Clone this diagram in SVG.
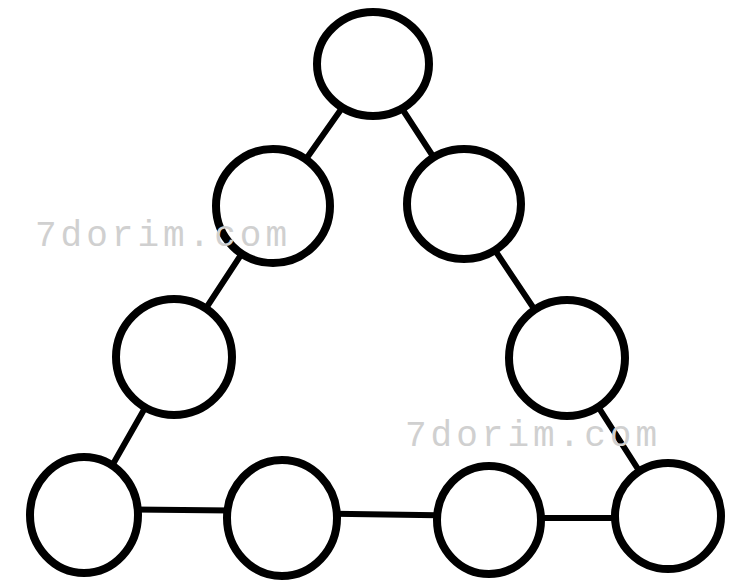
<svg xmlns="http://www.w3.org/2000/svg" width="743" height="586" viewBox="0 0 743 586">
<style>
.n{fill:#fff;stroke:#000;stroke-width:8}
.c{stroke:#000;stroke-width:6;fill:none;stroke-linecap:round}
.wm{fill:#d0d0d0;font-family:"Liberation Mono",monospace;font-size:36px;letter-spacing:4px}
</style>
<rect width="743" height="586" fill="#fff"/>
<g id="connectors">
<line class="c" x1="373" y1="64" x2="273" y2="206"/>
<line class="c" x1="373" y1="64" x2="464" y2="204"/>
<line class="c" x1="273" y1="206" x2="174" y2="357"/>
<line class="c" x1="464" y1="204" x2="567" y2="358"/>
<line class="c" x1="174" y1="357" x2="84" y2="515"/>
<line class="c" x1="567" y1="358" x2="668" y2="516"/>
<line class="c" x1="84" y1="509" x2="282" y2="511"/>
<line class="c" x1="282" y1="513" x2="489" y2="516"/>
<line class="c" x1="489" y1="518" x2="668" y2="518"/>
</g>
<g id="n1"><ellipse class="n" cx="373" cy="64" rx="56" ry="52"/></g>
<g id="n2"><ellipse class="n" cx="273" cy="206" rx="57" ry="57"/></g>
<g id="n3"><ellipse class="n" cx="464" cy="204" rx="57" ry="55"/></g>
<g id="n4"><ellipse class="n" cx="174" cy="357" rx="58" ry="58"/></g>
<g id="n5"><ellipse class="n" cx="567" cy="358" rx="58" ry="58"/></g>
<g id="n6"><ellipse class="n" cx="84" cy="515" rx="54" ry="58"/></g>
<g id="n7"><ellipse class="n" cx="282" cy="518" rx="55" ry="58"/></g>
<g id="n8"><ellipse class="n" cx="489" cy="520" rx="52" ry="54"/></g>
<g id="n9"><ellipse class="n" cx="668" cy="516" rx="53" ry="53"/></g>
<text class="wm" x="35" y="246">7dorim.com</text>
<text class="wm" x="405" y="446">7dorim.com</text>
</svg>
